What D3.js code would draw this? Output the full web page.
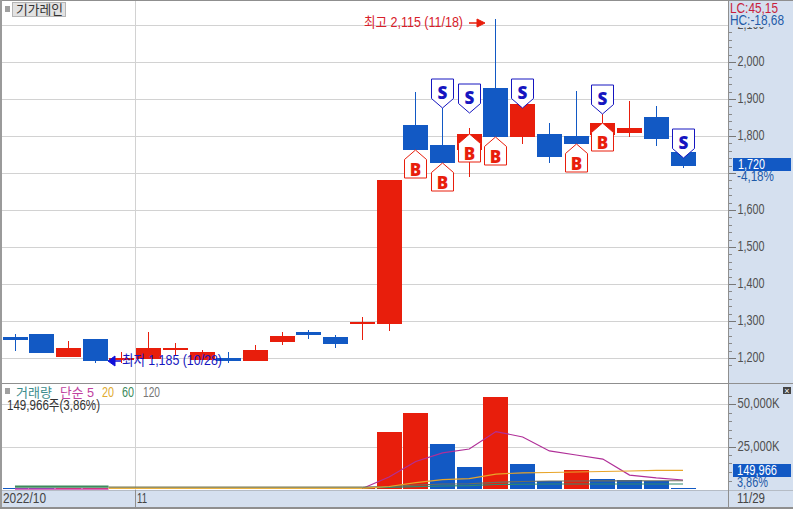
<!DOCTYPE html>
<html><head><meta charset="utf-8">
<script src="https://cdn.jsdelivr.net/npm/d3@7"></script>
<style>
html,body{margin:0;padding:0;background:#fff;overflow:hidden}
svg{display:block}
text{font-family:"Liberation Sans","Noto Sans CJK KR",sans-serif;font-size:14px}
</style></head><body><svg id="c" width="793" height="509"></svg>
<script>
const opens  = [1257,1265,1203,1251,1200,1197,1224,1195,1200,1192,1243,1270,1257,1295,1292,1830,1776,1762,1930,1797,1805,1800,1803,1808,1851,1757];
const closes = [1249,1214,1227,1192,1201,1227,1227,1216,1192,1222,1259,1262,1238,1297,1681,1762,1727,1805,1797,1886,1743,1778,1835,1822,1792,1720];
const highs  = [1265,1265,1246,1251,1216,1270,1241,1222,1216,1235,1270,1276,1262,1310,1681,1919,1876,1822,2115,1886,1835,1922,1859,1895,1881,1762];
const lows   = [1219,1214,1203,1186,1186,1197,1208,1195,1186,1192,1235,1251,1227,1249,1273,1762,1727,1689,1797,1778,1727,1778,1803,1797,1773,1714];
const volumes= [150,120,140,180,130,160,110,120,100,150,140,130,170,260,33700,44900,26500,12900,54100,14700,4700,11200,5900,5300,4700,150];
const buyIdx  = [15,16,17,18,21,22];
const sellIdx = [16,17,19,22,25];
const sellTip = [1876,1862,1876,1859,1741];
const priceTicks = [1200,1300,1400,1500,1600,1700,1800,1900,2000,2100];
const priceLabels = ["1,200","1,300","1,400","1,500","1,600","","1,800","1,900","2,000","2,100"];
const volTicks = [25000,50000];
const lateIdx = [13,14,15,16,17,18,19,20,21,22,23,24,25];
const ma5  = [300,7050,16200,21200,23500,33800,30600,22400,20000,17600,8200,6500,5300];
const ma20 = [400,1470,3800,5470,6100,8800,9500,9700,10000,10300,10600,10900,11000];
const ma60 = [600,900,1350,1750,1950,2650,2800,2950,2950,2950,2950,2950,2950];
const ma120= [1150,1450,2350,2950,3100,3950,4400,4700,4700,4750,4800,4850,4850];
const earlyIdx=[0,3.5], earlyMa5=[0,0], earlyMa60=[1350,1350];
const flatIdx=[3.5,13], flatMa20=[400,400], flatMa120=[1150,1150];
const RED="#e81e0c",BLUE="#1259c4",NAVY="#1616c0",GRID="#d2d2d2",BG="#d5e0ef",EDGE="#8f8f8f";

const svg=d3.select("#c");
const x=d3.scaleLinear().domain([0,25]).range([15,683]);
const y=d3.scaleLinear().domain([1200,2000]).range([358,62]);
const yv=d3.scaleLinear().domain([0,50000]).range([489,404]);
const R=Math.round, F=Math.floor;
const rect=(g,a,b,w,h,f)=>g.append("rect").attr("x",a).attr("y",b).attr("width",w).attr("height",h).attr("fill",f).attr("shape-rendering","crispEdges");
const txt=(t,a,b,f,o={})=>{const e=svg.append("text").attr("x",a).attr("y",b).attr("fill",f).text(t);
  if(o.size)e.style("font-size",o.size+"px"); if(o.w)e.attr("textLength",o.w).attr("lengthAdjust","spacingAndGlyphs"); if(o.anchor)e.attr("text-anchor",o.anchor); return e;};

// panels
rect(svg,728,0,65,509,BG);
rect(svg,2,490,726,17,BG);
// grid
const grid=svg.append("g").attr("stroke",GRID).attr("shape-rendering","crispEdges");
priceTicks.forEach(v=>grid.append("line").attr("x1",2).attr("x2",728).attr("y1",R(y(v))+.5).attr("y2",R(y(v))+.5));
volTicks.forEach(v=>grid.append("line").attr("x1",2).attr("x2",728).attr("y1",R(yv(v))+.5).attr("y2",R(yv(v))+.5));
grid.append("line").attr("x1",135.5).attr("x2",135.5).attr("y1",1).attr("y2",490);

// axes
const fmtK=d=>d3.format(",")(d)+"K";
const axP=svg.append("g").attr("transform","translate(728.5,0)").call(d3.axisRight(y).tickValues(priceTicks).tickSize(7).tickPadding(2).tickFormat((d,i)=>priceLabels[i]));
const axV=svg.append("g").attr("transform","translate(728.5,0)").call(d3.axisRight(yv).tickValues(volTicks).tickSize(7).tickPadding(2).tickFormat(fmtK));
[[axP,27],[axV,42]].forEach(([a,w])=>{a.select(".domain").attr("d",null);
  a.selectAll("line").attr("stroke","#777").attr("shape-rendering","crispEdges");
  a.selectAll("text").attr("fill","#505050").style("font-size","14px").attr("dy","0.28em").filter(function(){return this.textContent;}).attr("textLength",w).attr("lengthAdjust","spacingAndGlyphs");});
const minor=svg.append("g").attr("stroke","#8a8a8a").attr("shape-rendering","crispEdges");
d3.range(1180,2121,20).forEach(v=>{if(v%100){const p=R(y(v))+.5;minor.append("line").attr("x1",728).attr("x2",732).attr("y1",p).attr("y2",p);}});
d3.range(5000,55001,5000).forEach(v=>{if(v%25000){const p=R(yv(v))+.5;minor.append("line").attr("x1",728).attr("x2",732).attr("y1",p).attr("y2",p);}});

// candles
const wick=svg.append("g").attr("shape-rendering","crispEdges");
const body=svg.append("g");
opens.forEach((o,i)=>{const c=closes[i],col=c>=o?RED:BLUE,px=F(x(i));
  wick.append("line").attr("x1",px+.5).attr("x2",px+.5).attr("y1",R(y(highs[i]))).attr("y2",R(y(lows[i]))).attr("stroke",col);
  const t=R(y(Math.max(o,c))),b=R(y(Math.min(o,c)));
  rect(body,px-12,t,25,Math.max(2,b-t),col);
});
// volume: red when volume rose from the previous session
const vb=svg.append("g");
volumes.forEach((v,i)=>{const px=F(x(i)),t=Math.min(488,R(yv(v)));
  rect(vb,px-12,t,25,489-t,i&&v>=volumes[i-1]?RED:BLUE);});
const lineFn=d3.line().x(d=>x(d[0])).y(d=>yv(d[1]));
const plot=(idx,vals,col,w=1.2)=>svg.append("path").attr("d",lineFn(idx.map((k,j)=>[k,vals[j]]))).attr("fill","none").attr("stroke",col).attr("stroke-width",w);
plot(earlyIdx,earlyMa5,"#c83fa8",1.6);
plot(earlyIdx,earlyMa60,"#3d8a5c",2.2);
plot(flatIdx,flatMa20,"#e8b040",1.4);
plot(flatIdx,flatMa120,"#7a7a50",1.2);
plot(lateIdx,ma5,"#b02f98");
plot(lateIdx,ma120,"#6e6e5a");
plot(lateIdx,ma60,"#2f8a6e");
plot(lateIdx,ma20,"#e8a52a");

// markers
const bp=(cx,t)=>`M${cx},${t}L${cx+11},${t+9.5}V${t+28}H${cx-11}V${t+9.5}Z`;
const sp=(cx,t)=>`M${cx},${t}L${cx+11},${t-9.5}V${t-29}H${cx-11}V${t-9.5}Z`;
const mark=(t,cx,yy,c)=>svg.append("text").attr("x",cx).attr("y",yy).attr("text-anchor","middle").attr("fill",c).style("font-family",'"Open Sans",sans-serif').style("font-weight","800").style("font-size","17px").text(t);
buyIdx.forEach(i=>{const cx=F(x(i))+.5,t=R(y(closes[i]));
  svg.append("path").attr("d",bp(cx,t)).attr("fill","#fff").attr("stroke",RED);
  mark("B",cx,t+26,RED);});
sellIdx.forEach((i,j)=>{const cx=F(x(i))+.5,t=R(y(sellTip[j]));
  svg.append("path").attr("d",sp(cx,t)).attr("fill","#fff").attr("stroke",NAVY);
  mark("S",cx,t-9,NAVY);});

// annotations
txt("최고 2,115 (11/18)",364,27,"#d8202a",{w:99});
svg.append("path").attr("d","M469,23H477V19L485,23L477,27V23Z").attr("fill",RED).attr("stroke",RED);
txt("최저 1,185 (10/28)",122,365,NAVY,{w:100});
svg.append("path").attr("d","M121,361H115V366L108,361L115,356V361Z").attr("fill","#1010d8").attr("stroke","#1010d8");

// frame
rect(svg,0,0,793,1,EDGE);rect(svg,0,0,2,509,"#9a9a9a");rect(svg,2,383,791,1,EDGE);rect(svg,2,490,791,1,"#b5bcc5");rect(svg,0,507,793,2,EDGE);rect(svg,728,0,1,509,EDGE);rect(svg,135,490,1,17,"#8f8f8f");

// headers
rect(svg,5,6,5,6,"#a0a0a0");
rect(svg,12,2,54,14,"#e2e2e2");
svg.append("rect").attr("x",12.5).attr("y",2.5).attr("width",53).attr("height",14).attr("fill","none").attr("stroke","#b5b5b5");
txt("기가레인",16,14,"#333",{size:13,w:47});
rect(svg,5,388,5,6,"#a0a0a0");
txt("거래량",16,397,"#3c8c8c",{size:13,w:36});
txt("단순 5",60,397,"#c040a0",{size:13,w:34});
txt("20",102,397,"#e0aa30",{w:12});
txt("60",122,397,"#3d8a5c",{w:12});
txt("120",143,397,"#777",{w:17});
txt("149,966주(3,86%)",7,410,"#333",{w:93});

rect(svg,729,1,64,26,BG);
txt("LC:45,15",730,13,"#c81e3c",{w:48});
txt("HC:-18,68",730,25,"#1e5aa8",{w:54});
rect(svg,733,158,58,13,BLUE);
txt("1,720",738,169,"#fff",{w:27});
txt("-4,18%",737,181,"#1e5aa8",{w:37});
rect(svg,733,464,58,13,BLUE);
txt("149,966",737,475,"#fff",{w:40});
txt("3,86%",737,487,"#1e5aa8",{w:31});
rect(svg,783,387,8,7,"#444");
txt("×",787,393.5,"#fff",{size:9,anchor:"middle"});
txt("2022/10",3,503,"#444",{w:43});
txt("11",137,503,"#444",{w:10});
txt("11/29",737,503,"#444",{w:28});
</script></body></html>
